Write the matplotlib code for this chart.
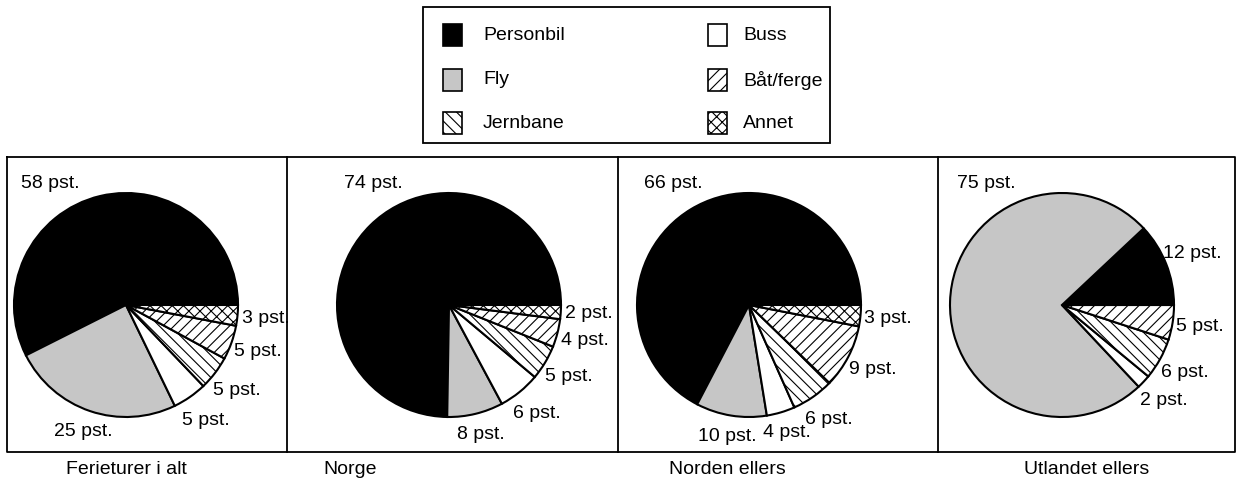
import matplotlib

matplotlib.use("Agg")
import numpy as np
import matplotlib.pyplot as plt
from matplotlib.patches import Rectangle
from matplotlib import font_manager

# --- data ---
categories = ["Personbil", "Fly", "Buss", "Jernbane", "Båt/ferge", "Annet"]
panel_titles = ["Ferieturer i alt", "Norge", "Norden ellers", "Utlandet ellers"]
ferieturer_i_alt = [58, 25, 5, 5, 5, 3]
norge = [74, 8, 6, 5, 4, 2]
norden_ellers = [66, 10, 4, 6, 9, 3]
utlandet_ellers = [12, 75, 2, 6, 5, 0]
legend_order = ["Personbil", "Fly", "Jernbane", "Buss", "Båt/ferge", "Annet"]

panels = [ferieturer_i_alt, norge, norden_ellers, utlandet_ellers]

# --- layout (pixels) ---
W, H = 1236, 490
R = 112
pie_centers = [126, 449, 749, 1062]
pie_cy = 305
title_x = [126, 350, 727, 1087]
title_y = 469
dividers = [7, 287, 618, 938, 1235]
frame_top, frame_bottom = 157, 452

styles = {
    "Personbil": dict(color="black", hatch=None),
    "Fly": dict(color="#c6c6c6", hatch=None),
    "Buss": dict(color="white", hatch=None),
    "Jernbane": dict(color="white", hatch="\\\\\\"),
    "Båt/ferge": dict(color="white", hatch="///"),
    "Annet": dict(color="white", hatch="xxx"),
}

names = [f.name for f in font_manager.fontManager.ttflist]
family = ["Liberation Sans Narrow", "Liberation Sans", "DejaVu Sans"]
family = [f for f in family if f in names] or ["DejaVu Sans"]
fsize = 15 if family[0] == "Liberation Sans Narrow" else 14
plt.rcParams["font.family"] = family
plt.rcParams["hatch.linewidth"] = 0.8

fig = plt.figure(figsize=(W / 100, H / 100), dpi=100)
bg = fig.add_axes([0, 0, 1, 1])
bg.set_xlim(0, W)
bg.set_ylim(H, 0)
bg.axis("off")

# frame around the four panels
bg.plot([dividers[0], dividers[-1], dividers[-1], dividers[0], dividers[0]],
        [frame_top, frame_top, frame_bottom, frame_bottom, frame_top],
        color="black", lw=1.3)
for x in dividers[1:-1]:
    bg.plot([x, x], [frame_top, frame_bottom], color="black", lw=1.3)

for values, cx, title, tx in zip(panels, pie_centers, panel_titles, title_x):
    ax = fig.add_axes([(cx - 1.5 * R) / W, (H - pie_cy - 1.5 * R) / H,
                       3 * R / W, 3 * R / H])
    wedges, _ = ax.pie(values, colors=[styles[c]["color"] for c in categories],
                       startangle=0, counterclock=True,
                       wedgeprops=dict(edgecolor="black", linewidth=1.5))
    for w, c in zip(wedges, categories):
        if styles[c]["hatch"]:
            w.set_hatch(styles[c]["hatch"])
    biggest = int(np.argmax(values))
    for i, w in enumerate(wedges):
        if values[i] == 0:
            continue
        if i == biggest:
            ang, d = 122, 1.28
        else:
            ang = (w.theta1 + w.theta2) / 2
            # labels under the pie sit a little closer to the rim
            d = 1.25 if np.sin(np.radians(ang)) > -0.9 else 1.19
        ax.text(d * np.cos(np.radians(ang)), d * np.sin(np.radians(ang)),
                f"{values[i]} pst.", ha="center", va="center", fontsize=fsize)
    ax.set_xlim(-1.5, 1.5)
    ax.set_ylim(-1.5, 1.5)
    ax.axis("off")
    bg.text(tx, title_y, title, ha="center", va="center", fontsize=fsize)

# legend box
bg.add_patch(Rectangle((423, 7), 407, 136, fill=False, edgecolor="black", lw=1.3))
for i, name in enumerate(legend_order):
    col, row = i // 3, i % 3
    yc = [35, 80, 123][row]
    sx = [443, 708][col]
    bg.add_patch(Rectangle((sx, yc - 11), 19, 22, facecolor=styles[name]["color"],
                           hatch=styles[name]["hatch"], edgecolor="black", lw=1.2))
    bg.text([483, 743][col], yc, name, ha="left", va="center", fontsize=fsize)

plt.savefig("out.png", dpi=100)
plt.close()
